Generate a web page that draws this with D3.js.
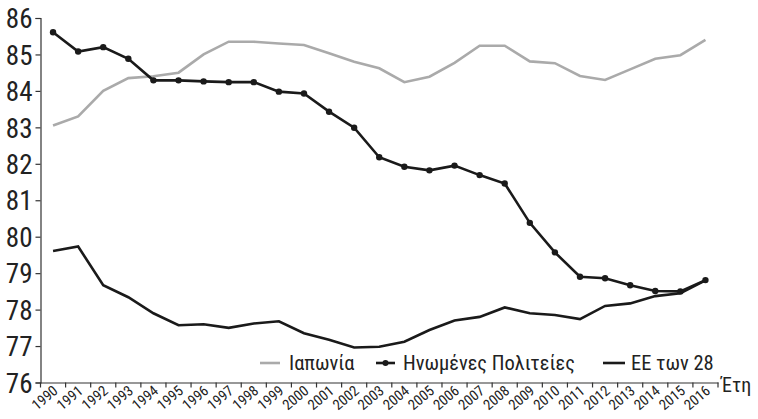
<!DOCTYPE html>
<html>
<head>
<meta charset="utf-8">
<script src="https://cdn.jsdelivr.net/npm/d3@7"></script>
<style>
  body { margin: 0; background: #fff; }
  svg text { font-family: "Liberation Sans Narrow", "Roboto Condensed", "DejaVu Sans Condensed", sans-serif; fill: #222; }
</style>
</head>
<body>
<svg id="chart" width="758" height="419"></svg>
<script>
// years on the x axis
var years = ['1990','1991','1992','1993','1994','1995','1996','1997','1998','1999','2000',
    '2001','2002','2003','2004','2005','2006','2007','2008','2009','2010','2011','2012',
    '2013','2014','2015','2016'];

// Ιαπωνία
var japan = [83.05, 83.3, 84.0, 84.35, 84.4, 84.5, 85.0, 85.35, 85.35, 85.3, 85.26,
    85.03, 84.8, 84.62, 84.24, 84.39, 84.77, 85.24, 85.24, 84.81, 84.76, 84.41, 84.3,
    84.59, 84.88, 84.98, 85.4];

// Ηνωμένες Πολιτείες
var usa = [85.61, 85.08, 85.2, 84.88, 84.29, 84.29, 84.26, 84.24, 84.24, 83.98, 83.93,
    83.43, 82.99, 82.18, 81.92, 81.82, 81.95, 81.69, 81.46, 80.38, 79.57, 78.9, 78.86,
    78.67, 78.51, 78.5, 78.81];

// ΕΕ των 28
var eu28 = [79.61, 79.73, 78.67, 78.34, 77.9, 77.57, 77.6, 77.5, 77.62, 77.68, 77.35,
    77.17, 76.96, 76.98, 77.12, 77.44, 77.7, 77.8, 78.06, 77.9, 77.85, 77.74, 78.1,
    78.17, 78.37, 78.45, 78.8];

var yTicks = [76, 77, 78, 79, 80, 81, 82, 83, 84, 85, 86];

var svg = d3.select('#chart');

var x = d3.scaleBand().domain(years).range([40.5, 718]);
var y = d3.scaleLinear().domain([76, 86]).range([382.5, 18]);

function cx(d, i) { return x(years[i]) + x.bandwidth() / 2; }

// y axis
var yAxis = svg.append('g')
    .attr('transform', 'translate(40.5,0)')
    .call(d3.axisLeft(y).tickValues(yTicks).tickSize(5).tickPadding(3).tickFormat(d3.format('d')));
yAxis.select('.domain').attr('stroke', '#333').attr('stroke-width', 1.2);
yAxis.selectAll('.tick line').attr('stroke', '#333').attr('stroke-width', 1.2);
yAxis.selectAll('text')
    .attr('font-size', 27)
    .attr('fill', '#222')
    .attr('dy', '0.36em');

// x axis
var xAxis = svg.append('g')
    .attr('transform', 'translate(0,382.5)')
    .call(d3.axisBottom(x).tickSize(0).tickFormat(''));
xAxis.select('.domain').attr('stroke', '#333').attr('stroke-width', 1.2);

var bounds = years.map(function(d) { return x(d); }).concat([x.range()[1]]);
svg.append('g').selectAll('line').data(bounds).enter().append('line')
    .attr('x1', function(d) { return d; })
    .attr('x2', function(d) { return d; })
    .attr('y1', 382.5)
    .attr('y2', 387.5)
    .attr('stroke', '#333')
    .attr('stroke-width', 1.2);

svg.append('g').selectAll('text').data(years).enter().append('text')
    .attr('transform', function(d, i) {
        return 'translate(' + (cx(d, i) + 3) + ',389) rotate(-40)';
    })
    .attr('text-anchor', 'end')
    .attr('dy', '0.3em')
    .attr('font-size', 14.5)
    .text(function(d) { return d; });

svg.append('text')
    .attr('x', 721)
    .attr('y', 392)
    .attr('font-size', 20)
    .text('Έτη');

// lines
var line = d3.line()
    .x(function(d, i) { return cx(d, i); })
    .y(function(d) { return y(d); });

svg.append('path').datum(japan)
    .attr('d', line)
    .attr('fill', 'none')
    .attr('stroke', '#aaaaaa')
    .attr('stroke-width', 2.6);

svg.append('path').datum(eu28)
    .attr('d', line)
    .attr('fill', 'none')
    .attr('stroke', '#1a1a1a')
    .attr('stroke-width', 2.6);

svg.append('path').datum(usa)
    .attr('d', line)
    .attr('fill', 'none')
    .attr('stroke', '#1a1a1a')
    .attr('stroke-width', 2.6);

svg.append('g').selectAll('circle').data(usa).enter().append('circle')
    .attr('cx', function(d, i) { return cx(d, i); })
    .attr('cy', function(d) { return y(d); })
    .attr('r', 3.2)
    .attr('fill', '#1a1a1a');

// legend
var legend = [
    { name: 'Ιαπωνία', color: '#aaaaaa', dot: false, x0: 260, x1: 280, tx: 289 },
    { name: 'Ηνωμένες Πολιτείες', color: '#1a1a1a', dot: true, x0: 376, x1: 395, tx: 403 },
    { name: 'ΕΕ των 28', color: '#1a1a1a', dot: false, x0: 603, x1: 625, tx: 631 }
];

var lg = svg.append('g').selectAll('g').data(legend).enter().append('g');
lg.append('line')
    .attr('x1', function(d) { return d.x0; })
    .attr('x2', function(d) { return d.x1; })
    .attr('y1', 363)
    .attr('y2', 363)
    .attr('stroke', function(d) { return d.color; })
    .attr('stroke-width', 2.6);
lg.filter(function(d) { return d.dot; }).append('circle')
    .attr('cx', function(d) { return (d.x0 + d.x1) / 2; })
    .attr('cy', 363)
    .attr('r', 3)
    .attr('fill', '#1a1a1a');
lg.append('text')
    .attr('x', function(d) { return d.tx; })
    .attr('y', 370)
    .attr('font-size', 20.5)
    .text(function(d) { return d.name; });
</script>
</body>
</html>
